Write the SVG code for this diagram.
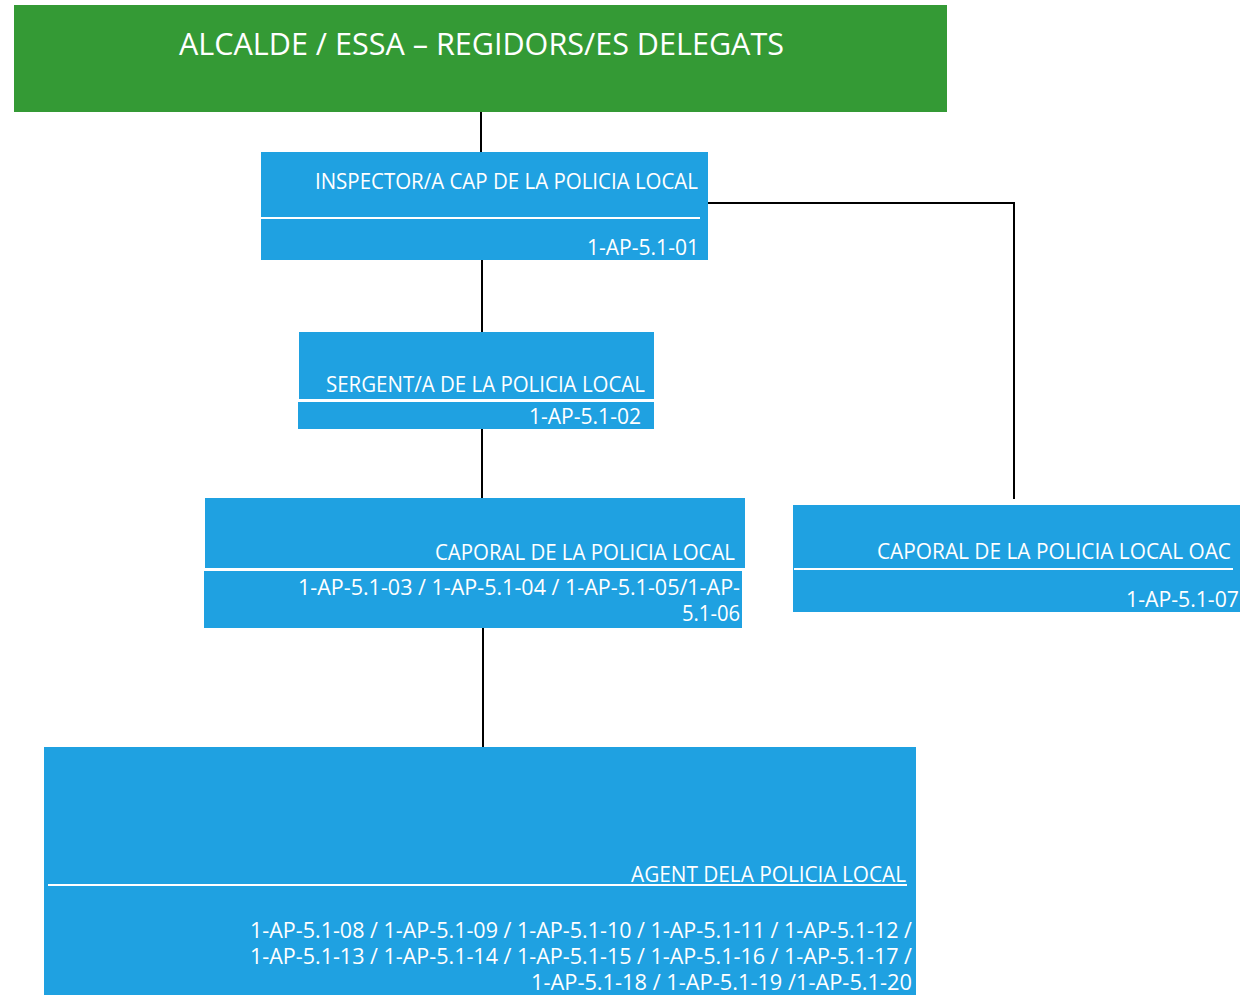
<svg xmlns="http://www.w3.org/2000/svg" width="1241" height="995" viewBox="0 0 1241 995">
<style>
.box{fill:#1fa1e1}
.green{fill:#349a35}
.t{font-family:"Open Sans","Noto Sans",sans-serif;fill:#ffffff;text-anchor:end;font-size:21px}
.sep{stroke:#ffffff;stroke-width:2;fill:none}
.conn{stroke:#000000;stroke-width:2;fill:none}
</style>
<rect width="1241" height="995" fill="#ffffff"/>
<g id="connectors">
<line class="conn" x1="481" y1="112" x2="481" y2="153"/>
<line class="conn" x1="482" y1="259" x2="482" y2="333"/>
<line class="conn" x1="482" y1="428" x2="482" y2="499"/>
<line class="conn" x1="483" y1="627" x2="483" y2="748"/>
<polyline class="conn" points="705,203 1014,203 1014,499"/>
</g>
<g id="alcalde">
<rect class="green" x="14" y="5" width="933" height="107"/>
<text class="t" x="784" y="55" style="font-size:31px" textLength="605" lengthAdjust="spacingAndGlyphs">ALCALDE / ESSA – REGIDORS/ES DELEGATS</text>
</g>
<g id="inspector">
<rect class="box" x="261" y="152" width="447" height="108"/>
<line class="sep" x1="261" y1="218" x2="700" y2="218"/>
<text class="t" x="698" y="189" textLength="383" lengthAdjust="spacingAndGlyphs">INSPECTOR/A CAP DE LA POLICIA LOCAL</text>
<text class="t" x="699" y="255" textLength="112" lengthAdjust="spacingAndGlyphs">1-AP-5.1-01</text>
</g>
<g id="sergent">
<rect class="box" x="299" y="332" width="355" height="69"/>
<rect class="box" x="298" y="402" width="356" height="27"/>
<line class="sep" x1="298" y1="400" x2="654" y2="400"/>
<text class="t" x="645" y="392" textLength="319" lengthAdjust="spacingAndGlyphs">SERGENT/A DE LA POLICIA LOCAL</text>
<text class="t" x="641" y="424" textLength="112" lengthAdjust="spacingAndGlyphs">1-AP-5.1-02</text>
</g>
<g id="caporal">
<rect class="box" x="205" y="498" width="540" height="70"/>
<rect class="box" x="204" y="571" width="538" height="57"/>
<line class="sep" x1="211" y1="569" x2="742" y2="569"/>
<text class="t" x="735" y="560" textLength="300" lengthAdjust="spacingAndGlyphs">CAPORAL DE LA POLICIA LOCAL</text>
<text class="t" x="740" y="595" textLength="442" lengthAdjust="spacingAndGlyphs">1-AP-5.1-03 / 1-AP-5.1-04 / 1-AP-5.1-05/1-AP-</text>
<text class="t" x="740" y="621" textLength="58" lengthAdjust="spacingAndGlyphs">5.1-06</text>
</g>
<g id="caporal-oac">
<rect class="box" x="793" y="505" width="447" height="107"/>
<line class="sep" x1="794" y1="569" x2="1233" y2="569"/>
<text class="t" x="1231" y="559" textLength="354" lengthAdjust="spacingAndGlyphs">CAPORAL DE LA POLICIA LOCAL OAC</text>
<text class="t" x="1239" y="607" textLength="113" lengthAdjust="spacingAndGlyphs">1-AP-5.1-07</text>
</g>
<g id="agent">
<rect class="box" x="44" y="747" width="872" height="248"/>
<line class="sep" x1="48" y1="885" x2="907" y2="885"/>
<text class="t" x="906" y="882" textLength="275" lengthAdjust="spacingAndGlyphs">AGENT DELA POLICIA LOCAL</text>
<text class="t" x="912" y="938" textLength="662" lengthAdjust="spacingAndGlyphs">1-AP-5.1-08 / 1-AP-5.1-09 / 1-AP-5.1-10 / 1-AP-5.1-11 / 1-AP-5.1-12 /</text>
<text class="t" x="912" y="964" textLength="662" lengthAdjust="spacingAndGlyphs">1-AP-5.1-13 / 1-AP-5.1-14 / 1-AP-5.1-15 / 1-AP-5.1-16 / 1-AP-5.1-17 /</text>
<text class="t" x="912" y="990" textLength="381" lengthAdjust="spacingAndGlyphs">1-AP-5.1-18 / 1-AP-5.1-19 /1-AP-5.1-20</text>
</g>
</svg>
